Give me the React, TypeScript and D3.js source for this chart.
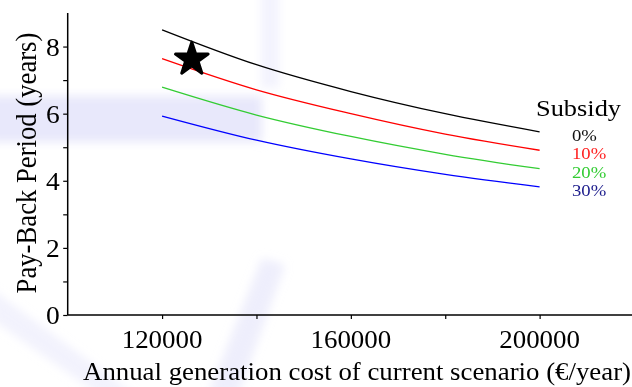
import React, { useEffect, useRef } from "react";
import * as d3 from "d3";

// x positions of the computed points (annual generation cost, €/year)
const costs = [120000, 140000, 160000, 180000, 200000];
// pay-back period (years) for each subsidy level
const subsidy0 = [8.5, 7.46, 6.66, 6.0, 5.46];
const subsidy10 = [7.64, 6.71, 6.0, 5.39, 4.91];
const subsidy20 = [6.79, 5.96, 5.32, 4.79, 4.36];
const subsidy30 = [5.93, 5.21, 4.65, 4.19, 3.82];
const subsidyLabels = ["0%", "10%", "20%", "30%"];
const lineColors = ["#000000", "#ff0000", "#33cc33", "#0000ff"];
const labelColors = ["#111111", "#ff2222", "#33cc33", "#1c1c8c"];
const xTicks = [120000, 140000, 160000, 180000, 200000];
const xTickLabels = [120000, 160000, 200000];
const yTicks = [0, 1, 2, 3, 4, 5, 6, 7, 8];
const yTickLabels = [0, 2, 4, 6, 8];
// current scenario marker
const current = { cost: 126300, years: 7.62 };

const width = 632,
  height = 387;
const FONT = "'Liberation Serif', 'Times New Roman', serif";
const STRETCH = 1.1; // the original figure is a bit wider than tall

function App() {
  const ref = useRef<SVGSVGElement>(null);

  useEffect(() => {
    const svg = d3.select(ref.current);
    svg.selectAll("*").remove();

    const x = d3.scaleLinear().domain([100000, 220000]).range([67.7, 634]);
    const y = d3.scaleLinear().domain([0, 9]).range([315, 13]);

    // faint watermark in the background
    const defs = svg.append("defs");
    defs.append("filter").attr("id", "blur").append("feGaussianBlur").attr("stdDeviation", 5);
    const wm = svg.append("g").attr("filter", "url(#blur)").attr("fill", "#dedefa");
    wm.append("rect").attr("x", -10).attr("y", 96).attr("width", 272).attr("height", 46).attr("opacity", 0.7);
    wm.append("rect").attr("x", 261).attr("y", -10).attr("width", 18).attr("height", 98).attr("opacity", 0.35);
    wm.append("polygon").attr("points", "-10,288 -10,318 100,395 135,395").attr("opacity", 0.4);
    wm.append("polygon").attr("points", "208,395 238,395 285,265 262,258").attr("opacity", 0.5);

    const series = [subsidy0, subsidy10, subsidy20, subsidy30];
    const line = d3
      .line<number>()
      .x((_, i) => x(costs[i]))
      .y((d) => y(d))
      .curve(d3.curveMonotoneX);

    svg
      .append("g")
      .selectAll("path")
      .data(series)
      .join("path")
      .attr("d", (d) => line(d))
      .attr("fill", "none")
      .attr("stroke", (_, i) => lineColors[i])
      .attr("stroke-width", 1.3);

    const stretched = (sel: any, px: any, py: any) =>
      sel.attr("transform", (d: any, i: number) => {
        const tx = typeof px === "function" ? px(d, i) : px;
        const ty = typeof py === "function" ? py(d, i) : py;
        return `translate(${tx},${ty}) scale(${STRETCH},1)`;
      });

    // axes
    const xAxis = svg.append("g").attr("transform", "translate(0,315)");
    xAxis
      .call(d3.axisBottom(x).tickValues(xTicks).tickSize(4).tickFormat(() => ""))
      .call((g) => g.select(".domain").attr("stroke", "#000").attr("stroke-width", 1.5).attr("d", "M67.7,0H634"));
    xAxis.selectAll(".tick line").attr("stroke", "#000").attr("stroke-width", 1.2);
    xAxis
      .selectAll(".lbl")
      .data(xTickLabels)
      .join("text")
      .call(stretched, (d: number) => x(d), 33)
      .attr("text-anchor", "middle")
      .attr("font-family", FONT)
      .attr("font-size", 24.5)
      .attr("fill", "#000")
      .text((d) => String(d));

    const yAxis = svg.append("g").attr("transform", "translate(67.7,0)");
    yAxis
      .call(d3.axisLeft(y).tickValues(yTicks).tickSize(4.5).tickFormat(() => ""))
      .call((g) => g.select(".domain").attr("stroke", "#000").attr("stroke-width", 1.5).attr("d", "M0,13V315"));
    yAxis.selectAll(".tick line").attr("stroke", "#000").attr("stroke-width", 1.2);
    yAxis
      .selectAll(".lbl")
      .data(yTickLabels)
      .join("text")
      .call(stretched, -8, (d: number) => y(d))
      .attr("dy", "0.36em")
      .attr("text-anchor", "end")
      .attr("font-family", FONT)
      .attr("font-size", 25)
      .attr("fill", "#000")
      .text((d) => String(d));

    // axis titles
    svg
      .append("text")
      .call(stretched, 357, 380)
      .attr("text-anchor", "middle")
      .attr("font-family", FONT)
      .attr("font-size", 24.4)
      .text("Annual generation cost of current scenario (€/year)");
    svg
      .append("text")
      .attr("transform", `translate(36,163) scale(${STRETCH},1) rotate(-90)`)
      .attr("text-anchor", "middle")
      .attr("font-family", FONT)
      .attr("font-size", 26.7)
      .text("Pay-Back Period (years)");

    // legend
    svg
      .append("text")
      .call(stretched, 536, 116)
      .attr("font-family", FONT)
      .attr("font-size", 24)
      .text("Subsidy");
    svg
      .append("g")
      .selectAll("text")
      .data(subsidyLabels)
      .join("text")
      .call(stretched, 572, (_: string, i: number) => 140.5 + i * 18.5)
      .attr("font-family", FONT)
      .attr("font-size", 17)
      .attr("fill", (_, i) => labelColors[i])
      .text((d) => d);

    // star marking the current scenario
    svg
      .append("path")
      .attr("d", d3.symbol(d3.symbolStar, 330)())
      .attr("transform", `translate(${x(current.cost)},${y(current.years)})`)
      .attr("fill", "#000")
      .attr("stroke", "#000")
      .attr("stroke-width", 3)
      .attr("stroke-linejoin", "round");
  }, []);

  return (
    <svg
      ref={ref}
      width={width}
      height={height}
      style={{ position: "absolute", left: 0, top: 0, background: "#fff" }}
    />
  );
}

export default App;
